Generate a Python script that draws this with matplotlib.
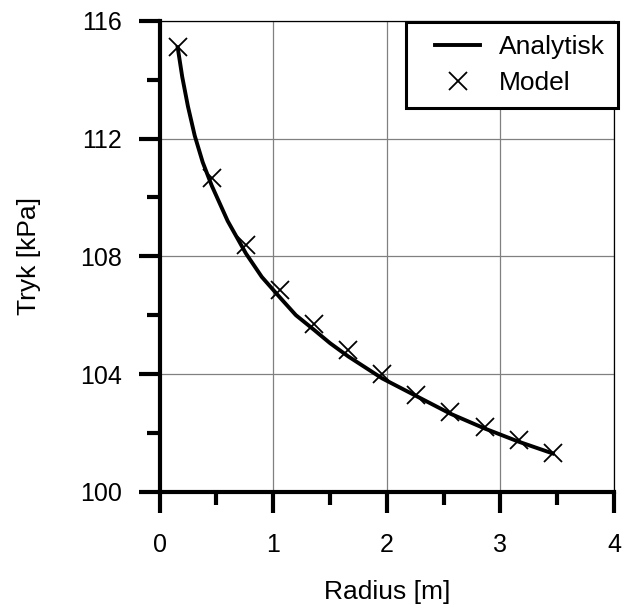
import numpy as np
import matplotlib
matplotlib.use("Agg")
import matplotlib.pyplot as plt
from matplotlib.legend_handler import HandlerLine2D

plt.rcParams['font.family'] = ['Liberation Sans', 'DejaVu Sans']

# Analytical curve
r_curve = [0.16, 0.20, 0.25, 0.31, 0.38, 0.46, 0.60, 0.76, 0.90, 1.06, 1.20,
           1.36, 1.50, 1.66, 1.80, 1.96, 2.26, 2.56, 2.86, 3.16, 3.46]
p_curve = [115.1, 114.1, 113.1, 112.1, 111.2, 110.4, 109.2, 108.1, 107.3, 106.6, 106.0,
           105.5, 105.05, 104.6, 104.25, 103.85, 103.25, 102.65, 102.15, 101.7, 101.3]

# Model points
r_model = [0.16, 0.46, 0.76, 1.06, 1.36, 1.66, 1.96, 2.26, 2.56, 2.86, 3.16, 3.46]
p_model = [115.1, 110.65, 108.4, 106.85, 105.7, 104.8, 104.0, 103.3, 102.7, 102.2, 101.75, 101.3]

tick_fs = 18
label_fs = 19
leg_fs = 19

fig = plt.figure(figsize=(6.26, 6.08), dpi=100)
ax = fig.add_axes([0.2548, 0.1913, 0.7262, 0.7742])

ax.plot(r_curve, p_curve, color='black', lw=2.8, label='Analytisk', zorder=3)
ax.plot(r_model, p_model, ls='none', marker='x', ms=13.5, mew=1.3,
        color='black', label='Model', zorder=4)

ax.set_xlim(0, 4)
ax.set_ylim(100, 116)
ax.set_xticks([0, 1, 2, 3, 4])
ax.set_xticks([0.5, 1.5, 2.5, 3.5], minor=True)
ax.set_yticks([100, 104, 108, 112, 116])
ax.set_yticks([102, 106, 110, 114], minor=True)
ax.grid(True, which='major', color='#808080', lw=0.9)
ax.set_axisbelow(True)

ax.tick_params(which='major', direction='out', length=15, width=3, labelsize=tick_fs)
ax.tick_params(which='minor', direction='out', length=9.5, width=3)
ax.tick_params(axis='y', which='major', pad=12)
ax.tick_params(axis='x', which='major', pad=15)

for s in ['left', 'bottom']:
    ax.spines[s].set_linewidth(3)
for s in ['top', 'right']:
    ax.spines[s].set_linewidth(0.9)

ax.set_xlabel('Radius [m]', fontsize=label_fs, va='center')
ax.xaxis.set_label_coords(0.5, -0.213)
ax.set_ylabel('Tryk [kPa]', fontsize=label_fs, va='center')
ax.yaxis.set_label_coords(-0.286, 0.5)

hmap = {}
for ln in ax.get_lines():
    hmap[ln] = HandlerLine2D(xpad=0.6)
leg = ax.legend(loc='upper right', bbox_to_anchor=(618 / 626, 1 - 22 / 608),
                bbox_transform=fig.transFigure, borderaxespad=0, fontsize=leg_fs,
                frameon=True, fancybox=False, edgecolor='black', framealpha=1,
                handlelength=2.31, handletextpad=0.71, borderpad=0.5,
                labelspacing=0.45, handler_map=hmap)
leg.get_frame().set_linewidth(2.2)

fig.savefig('out.png', dpi=100)
